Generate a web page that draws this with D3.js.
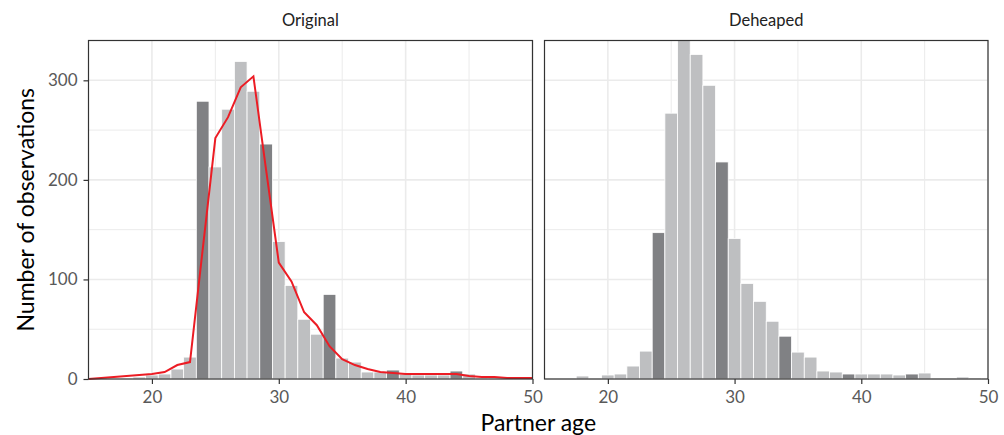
<!DOCTYPE html>
<html>
<head>
<meta charset="utf-8">
<script src="https://cdn.jsdelivr.net/npm/d3@7"></script>
<style>
  body { margin: 0; background: #fff; }
  text { font-family: Lato, "Open Sans", sans-serif; }
</style>
</head>
<body>
<div id="chart"></div>
<script>
// Canvas
var svgWidth = 1004;
var svgHeight = 435;

// Data: counts per age (bins of width 1 centred on each age)
var ages = d3.range(15, 51);
var originalCounts = [0, 0, 1, 1, 2, 4, 5, 10, 22, 279, 213, 271, 319, 289, 236, 138, 94, 60, 45, 85,
                      21, 17, 7, 7, 9, 5, 4, 4, 4, 8, 5, 1, 1, 1, 1, 0];
var deheapedCounts = [0, 0, 0, 3, 0, 4, 5, 13, 28, 147, 267, 340, 326, 295, 218, 141, 96, 78, 58, 43,
                      27, 22, 8, 7, 5, 5, 5, 5, 4, 5, 6, 0, 0, 2, 1, 0];
// Ages that attract heaping (drawn darker)
var heapAges = [24, 29, 34, 39, 44, 49];
// Smoothed line over the original data
var smoothValues = [0, 1, 2, 3, 4, 5, 7, 14, 17, 130, 242, 263, 293, 304, 210, 117, 98, 67, 54, 33,
                    20, 14, 10, 7, 6, 5, 5, 5, 5, 5, 3, 2, 2, 1, 1, 1];

var xTicks = [20, 30, 40, 50];
var xMinor = [15, 25, 35, 45];
var yTicks = [0, 100, 200, 300];
var yMinor = [50, 150, 250];
var panelTitles = ["Original", "Deheaped"];

var panels = [
  { title: panelTitles[0], counts: originalCounts, left: 88.5, right: 532.5, line: true, yAxis: true },
  { title: panelTitles[1], counts: deheapedCounts, left: 544.5, right: 988, line: false, yAxis: false }
];
var panelTop = 40.5, panelBottom = 379;

var svg = d3.select("#chart").append("svg")
  .attr("width", svgWidth).attr("height", svgHeight);

var y = d3.scaleLinear().domain([0, 340]).range([panelBottom, panelTop]);

panels.forEach(function (p) {
  var x = d3.scaleLinear().domain([15, 50]).range([p.left, p.right]);
  var g = svg.append("g");

  // Grid
  g.selectAll(".vmin").data(xMinor).enter().append("line")
    .attr("x1", d => x(d)).attr("x2", d => x(d)).attr("y1", panelTop).attr("y2", panelBottom)
    .attr("stroke", "#ebebeb").attr("stroke-width", 1);
  g.selectAll(".hmin").data(yMinor).enter().append("line")
    .attr("x1", p.left).attr("x2", p.right).attr("y1", d => y(d)).attr("y2", d => y(d))
    .attr("stroke", "#ebebeb").attr("stroke-width", 1);
  g.selectAll(".vmaj").data(xTicks).enter().append("line")
    .attr("x1", d => x(d)).attr("x2", d => x(d)).attr("y1", panelTop).attr("y2", panelBottom)
    .attr("stroke", "#ebebeb").attr("stroke-width", 1.6);
  g.selectAll(".hmaj").data(yTicks).enter().append("line")
    .attr("x1", p.left).attr("x2", p.right).attr("y1", d => y(d)).attr("y2", d => y(d))
    .attr("stroke", "#ebebeb").attr("stroke-width", 1.6);

  // Bars
  var bars = ages.map((a, i) => ({ age: a, n: p.counts[i] })).filter(d => d.n > 0);
  g.selectAll(".bar").data(bars).enter().append("rect")
    .attr("x", d => x(d.age - 0.5))
    .attr("width", d => x(d.age + 0.5) - x(d.age - 0.5))
    .attr("y", d => y(Math.min(d.n, 340)))
    .attr("height", d => y(0) - y(Math.min(d.n, 340)))
    .attr("fill", d => heapAges.indexOf(d.age) >= 0 ? "#808184" : "#bebfc1")
    .attr("stroke", "#fff").attr("stroke-width", 0.8);

  // Smoothed line
  if (p.line) {
    var line = d3.line().x((d, i) => x(ages[i])).y(d => y(d));
    g.append("path").datum(smoothValues)
      .attr("d", line)
      .attr("fill", "none")
      .attr("stroke", "#ec1c24")
      .attr("stroke-width", 2);
  }

  // Panel border
  g.append("rect")
    .attr("x", p.left).attr("y", panelTop)
    .attr("width", p.right - p.left).attr("height", panelBottom - panelTop)
    .attr("fill", "none").attr("stroke", "#333").attr("stroke-width", 1.2);

  // X axis
  var xAxis = g.append("g").attr("transform", "translate(0," + panelBottom + ")")
    .call(d3.axisBottom(x).tickValues(xTicks).tickSize(5).tickPadding(7));
  xAxis.select(".domain").remove();
  xAxis.selectAll("line").attr("stroke", "#333").attr("stroke-width", 1.2);
  xAxis.selectAll("text").attr("fill", "#595959").style("font-size", "17px");

  // Y axis
  if (p.yAxis) {
    var yAxis = g.append("g").attr("transform", "translate(" + p.left + ",0)")
      .call(d3.axisLeft(y).tickValues(yTicks).tickSize(5).tickPadding(6));
    yAxis.select(".domain").remove();
    yAxis.selectAll("line").attr("stroke", "#333").attr("stroke-width", 1.2);
    yAxis.selectAll("text").attr("fill", "#595959").style("font-size", "17px");
  }

  // Strip title
  svg.append("text")
    .attr("x", (p.left + p.right) / 2).attr("y", 26)
    .attr("text-anchor", "middle")
    .attr("fill", "#222")
    .style("font-size", "16.5px")
    .text(p.title);
});

// Axis titles
svg.append("text")
  .attr("x", (panels[0].left + panels[1].right) / 2).attr("y", 431)
  .attr("text-anchor", "middle").attr("fill", "#000")
  .style("font-size", "23px")
  .text("Partner age");

svg.append("text")
  .attr("transform", "translate(34," + (panelTop + panelBottom) / 2 + ") rotate(-90)")
  .attr("text-anchor", "middle").attr("fill", "#000")
  .style("font-size", "23px")
  .text("Number of observations");
</script>
</body>
</html>
